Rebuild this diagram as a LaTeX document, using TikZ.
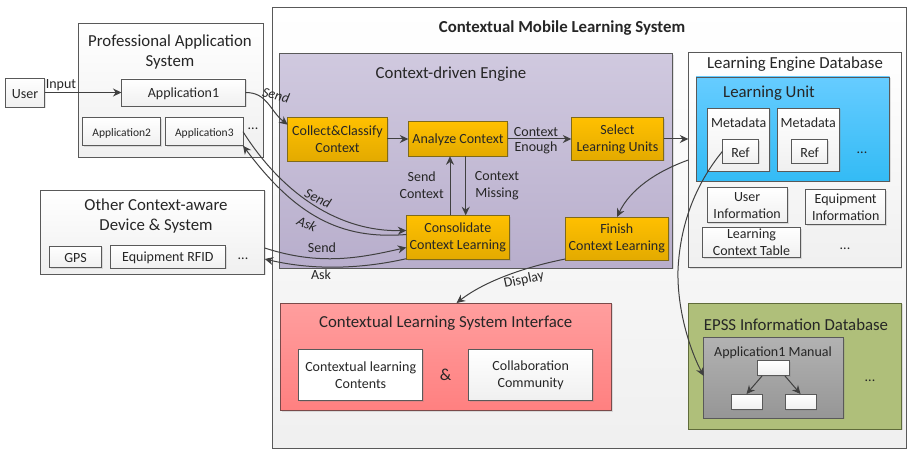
\documentclass[tikz,border=0pt]{standalone}
\usepackage{fontspec}
\setmainfont{Carlito}
\usetikzlibrary{arrows.meta,shadows}
\definecolor{ink}{HTML}{262626}
\definecolor{edge}{HTML}{595959}
\definecolor{connc}{HTML}{404040}
\definecolor{orange1}{HTML}{FFC000}
\definecolor{orange2}{HTML}{E3AA00}
\definecolor{orange3}{HTML}{7F6A1A}
\definecolor{engine1}{HTML}{D0C9DF}
\definecolor{engine2}{HTML}{B8AECC}
\definecolor{lu1}{HTML}{66CCFF}
\definecolor{lu2}{HTML}{33BBF5}
\definecolor{epss}{HTML}{AFBF7A}
\definecolor{epssedge}{HTML}{5F6B3A}
\definecolor{man1}{HTML}{B2B2B2}
\definecolor{man2}{HTML}{969696}
\definecolor{cl1}{HTML}{FF9E9E}
\definecolor{cl2}{HTML}{FF8080}
\definecolor{cledge}{HTML}{7A4A4A}
\newcommand\fs[2]{\fontsize{#1}{#2}\selectfont}
\newcommand\bx[7][]{%
  \pgfmathsetmacro\cxv{(#3+#5)/2}%
  \pgfmathsetmacro\cyv{(#4+#6)/2}%
  \pgfmathsetmacro\wv{#5-#3}%
  \pgfmathsetmacro\hv{#6-#4}%
  \node[basebox,#1,minimum width=\wv pt,minimum height=\hv pt] (#2) at (\cxv,\cyv) {#7};%
}
\tikzset{
  basebox/.style={draw=edge,line width=0.9pt,inner sep=0pt,outer sep=0pt,align=center,text=ink,
    font=\fs{14}{17},execute at begin node={\rule{0pt}{12pt}},
    drop shadow={opacity=0.22,shadow xshift=1.2pt,shadow yshift=-1.2pt}},
  pale/.style={top color=white,bottom color=black!6},
  whitebox/.style={fill=white},
  orangebox/.style={top color=orange1,bottom color=orange2,draw=orange3},
  title/.style={text=ink,align=center,font=\fs{16.8}{20},inner sep=0pt},
  lab/.style={text=ink,align=center,font=\fs{14}{17},inner sep=0pt},
  conn/.style={draw=connc,line width=1pt,-{Stealth[length=8.5pt,width=8pt]}},
}
\begin{document}
\begin{tikzpicture}[x=1pt,y=-1pt]
\useasboundingbox (0,0) rectangle (907,449);
% containers
\bx[pale]{main}{272.5}{7.5}{906}{448}{}
\bx[top color=engine1,bottom color=engine2]{engine}{279.5}{53.7}{672.3}{268}{}
\bx[pale]{prof}{78}{23.5}{263}{157}{}
\bx[pale]{other}{40.7}{190}{264.7}{274}{}
\bx[pale]{ledb}{688.3}{52.7}{901}{267.3}{}
\bx[top color=lu1,bottom color=lu2]{lu}{696}{77}{889.7}{181.3}{}
\bx[fill=epss,draw=epssedge]{epssdb}{688.3}{303}{901.3}{429}{}
\bx[top color=man1,bottom color=man2]{manual}{703.7}{337.7}{843.3}{418}{}
\bx[top color=cl1,bottom color=cl2,draw=cledge]{clsi}{280.7}{303}{611.3}{410.3}{}
% left boxes
\bx[pale]{user}{5.5}{78}{44.5}{107}{User}
\bx[pale]{appa}{121.5}{79}{245.5}{106}{Application1}
\bx[pale,font=\fs{11.5}{14}]{appb}{82.7}{117.7}{160.7}{145.7}{Application2}
\bx[pale,font=\fs{11.5}{14}]{appc}{165.7}{117.7}{243}{145.7}{Application3}
\bx[pale]{gps}{49.7}{246}{101.3}{267.7}{GPS}
\bx[pale]{rfid}{110}{245.7}{225.7}{268}{Equipment RFID}
% engine boxes
\bx[orangebox]{coll}{287.7}{117.7}{387.3}{161.3}{Collect\&Classify\\Context}
\bx[orangebox]{anal}{408.3}{121.7}{507.7}{156.3}{Analyze Context}
\bx[orangebox]{sel}{571.3}{117.7}{663.7}{160.3}{Select\\Learning Units}
\bx[orangebox]{cons}{406.3}{215.3}{509.3}{259.7}{Consolidate\\Context Learning}
\bx[orangebox]{fin}{565.3}{217}{668.3}{260}{Finish\\Context Learning}
% database boxes
\bx[pale]{metaa}{707.7}{108.3}{769.7}{171.3}{}
\bx[pale]{metab}{777.3}{108.3}{839.3}{171.3}{}
\bx[pale]{refa}{722.3}{139.7}{758.7}{163.3}{Ref}
\bx[pale]{refb}{791.7}{139.7}{827.7}{163.3}{Ref}
\bx[pale]{uinfo}{707}{187.7}{787.3}{222.7}{User\\Information}
\bx[pale]{einfo}{805.7}{189.7}{885.7}{224.7}{Equipment\\Information}
\bx[pale]{lct}{702.7}{227.7}{800.3}{257.7}{Learning\\Context Table}
% manual tree
\bx[pale]{treet}{757.7}{360.7}{789.3}{375.7}{}
\bx[pale]{treel}{731.3}{394}{762}{409.3}{}
\bx[pale]{treer}{785}{394}{816}{409.3}{}
% interface boxes
\bx[whitebox]{clc}{298.7}{349}{422.7}{400.7}{Contextual learning\\Contents}
\bx[pale]{cc}{468.7}{349}{592.7}{400.7}{Collaboration\\Community}
% titles
\node[title,font=\bfseries\fs{16.8}{20}] (tmain) at (562,28.5) {Contextual Mobile Learning System};
\node[title] (tprof) at (170,52.5) {Professional Application\\System};
\node[title] (tother) at (156,216.5) {Other Context-aware\\Device \& System};
\node[title] (tengine) at (451,74.5) {Context-driven Engine};
\node[title] (tledb) at (795,64.5) {Learning Engine Database};
\node[title] (tlu) at (769,93.5) {Learning Unit};
\node[title] (tepss) at (796,324.5) {EPSS Information Database};
\node[title] (tclsi) at (445.7,323.5) {Contextual Learning System Interface};
\node[lab] (tman) at (773,353) {Application1 Manual};
\node[lab] (tmetaa) at (738.7,123) {Metadata};
\node[lab] (tmetab) at (808.3,123) {Metadata};
\node[title] (amp) at (445.7,375) {\&};
% ellipses
\node[lab] (da) at (253,129) {...};
\node[lab] (db) at (243,259) {...};
\node[lab] (dc) at (862,153) {...};
\node[lab] (dd) at (845,249) {...};
\node[lab] (de) at (870,381) {...};
% connectors
\draw[conn] (user.east) -- (appa.west);
\draw[conn] (appa.east) .. controls +(22,0) and +(-18,-14) .. ([yshift=-7pt]coll.north west);
\draw[conn] (appc.east) .. controls (283,195) and (340,232) .. ([yshift=7pt]cons.west);
\draw[conn] ([yshift=3pt]cons.west) .. controls (340,240) and (295,215) .. (appc.south east);
\draw[conn] (other.east |- 0,248) .. controls (320,266) and (360,258) .. (cons.west |- 0,247.5);
\draw[conn] ([yshift=1pt]cons.south west) .. controls (370,267) and (320,272) .. (other.east |- 0,259);
\draw[conn] (coll.east |- anal.west) -- (anal.west);
\draw[conn] (anal.east) -- (sel.west |- anal.east);
\draw[conn] (cons.north -| 450,0) -- (anal.south -| 450,0);
\draw[conn] (anal.south -| 465.7,0) -- (cons.north -| 465.7,0);
\draw[conn] (sel.east |- anal.east) -- (ledb.west |- anal.east);
\draw[conn] (ledb.west |- 0,160) .. controls (655,172) and (630,190) .. (fin.north -| 617,0);
\draw[conn] ([yshift=1pt]fin.south west) .. controls (525,267) and (485,281) .. (clsi.north -| 456.5,0);
\draw[conn] (refa.west) .. controls (695,185) and (680,225) .. (678,270) .. controls (677,310) and (690,350) .. (manual.west |- 0,376);
\draw[conn] (762,376) -- (treel.north -| 746.5,0);
\draw[conn] (785,376) -- (treer.north -| 800.5,0);
% connector labels
\node[lab] (linput) at (61,85) {Input};
\node[lab,font=\itshape\fs{14}{17},rotate=-15] (lsenda) at (276,95) {Send};
\node[lab,font=\itshape\fs{14}{17},rotate=-25] (lsendb) at (318,198) {Send};
\node[lab,font=\itshape\fs{14}{17},rotate=-25] (lask) at (307,224) {Ask};
\node[lab] (lsendc) at (322,248) {Send};
\node[lab] (laskb) at (321,275) {Ask};
\node[lab] (lsc) at (421.7,185.5) {Send\\Context};
\node[lab] (lcm) at (497,185.5) {Context\\Missing};
\node[lab,font=\fs{14}{14.5}] (lce) at (536,140.5) {Context\\Enough};
\node[lab,rotate=12] (ldisp) at (524,280) {Display};
\end{tikzpicture}
\end{document}
